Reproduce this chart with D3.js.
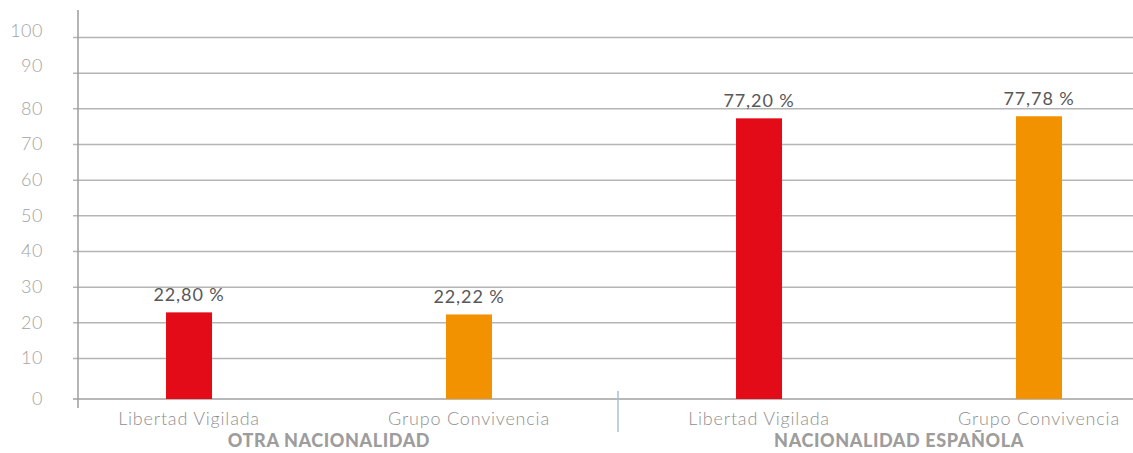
<!DOCTYPE html>
<html>
<head>
<meta charset="utf-8">
<script src="https://cdn.jsdelivr.net/npm/d3@7"></script>
<style>
  html, body { margin: 0; padding: 0; background: #fff; }
  svg { display: block; }
  text { font-family: "Lato", "Open Sans", sans-serif; }
</style>
</head>
<body>
<svg id="chart" width="1133" height="453"></svg>
<script>
// Nationality groups and the two programme categories inside each
const groups = ["OTRA NACIONALIDAD", "NACIONALIDAD ESPAÑOLA"];
const categories = ["Libertad Vigilada", "Grupo Convivencia"];
// Percentages per group, in category order
const otraNacionalidad = [22.80, 22.22];
const nacionalidadEspanola = [77.20, 77.78];
const yTicks = [0, 10, 20, 30, 40, 50, 60, 70, 80, 90, 100];
const barColors = ["#e30b17", "#f39200"];

const seriesByGroup = [otraNacionalidad, nacionalidadEspanola];
const rows = [];
groups.forEach((g, gi) => {
  categories.forEach((c, ci) => rows.push({ group: g, category: c, value: seriesByGroup[gi][ci], ci }));
});

const svg = d3.select("#chart");
const W = 1133;
const axisX = 78;        // vertical axis position
const baseY = 399;       // baseline of the bars
const tickLen = 5;

// Value scale (the 0 label sits on the baseline a little below the scale's zero)
const y = d3.scaleLinear().domain([0, 100]).range([393.7, 37]);
const outer = d3.scaleBand().domain(groups).range([44, 44 + 570 * 2]);
const inner = d3.scalePoint().domain(categories).range([0, outer.bandwidth()]).padding(0.518);
const barW = 46;
const fmt = v => d3.format(".2f")(v).replace(".", ",") + " %";

// Gridlines with tick labels
const yAxis = d3.axisLeft(y)
  .tickValues(yTicks)
  .tickSize(-(W - axisX))
  .tickPadding(0)
  .tickFormat(d3.format("d"));

const gAxis = svg.append("g").attr("transform", `translate(${axisX},0)`).call(yAxis);
gAxis.select(".domain").remove();
gAxis.selectAll(".tick line")
  .attr("x1", -tickLen)
  .attr("stroke", "#b5b5b5")
  .attr("stroke-width", 1.5);
gAxis.selectAll(".tick text")
  .attr("x", -35)
  .attr("dy", d => d >= 90 ? "-0.05em" : "0.32em")
  .attr("fill", "#a3a3a3")
  .style("font-size", "18px")
  .style("font-weight", 300)
  .style("letter-spacing", "0.5px")
  .style("font-family", "Lato, sans-serif");
// zero tick belongs to the baseline
gAxis.selectAll(".tick").filter(d => d === 0)
  .attr("transform", `translate(0,${baseY})`)
  .select("line").attr("stroke", "#a0a0a0");

// Vertical axis line
svg.append("line")
  .attr("x1", axisX).attr("x2", axisX)
  .attr("y1", 10).attr("y2", 408)
  .attr("stroke", "#9c9c9c")
  .attr("stroke-width", 1.5);

// Bars
svg.append("g").selectAll("rect")
  .data(rows)
  .join("rect")
  .attr("x", d => outer(d.group) + inner(d.category) - barW / 2)
  .attr("y", d => y(d.value))
  .attr("width", barW)
  .attr("height", d => baseY - y(d.value))
  .attr("fill", d => barColors[d.ci]);

// Value labels
svg.append("g").selectAll("text")
  .data(rows)
  .join("text")
  .attr("x", d => outer(d.group) + inner(d.category))
  .attr("y", d => y(d.value) - 11)
  .attr("text-anchor", "middle")
  .attr("fill", "#585858")
  .style("font-size", "18px")
  .style("font-weight", 400)
  .style("letter-spacing", "0.9px")
  .text(d => fmt(d.value));

// Category labels under each bar
svg.append("g").selectAll("text")
  .data(rows)
  .join("text")
  .attr("x", d => outer(d.group) + inner(d.category))
  .attr("y", 425)
  .attr("text-anchor", "middle")
  .attr("fill", "#8f8f8f")
  .style("font-size", "18px")
  .style("font-weight", 300)
  .style("letter-spacing", "0.8px")
  .text(d => d.category);

// Group labels
svg.append("g").selectAll("text")
  .data(groups)
  .join("text")
  .attr("x", d => outer(d) + outer.bandwidth() / 2)
  .attr("y", 447)
  .attr("text-anchor", "middle")
  .attr("fill", "#9d9d9d")
  .style("font-size", "18px")
  .style("font-weight", 900)
  .style("letter-spacing", "0.6px")
  .text(d => d);

// Separator between the groups
const sepX = (outer(groups[0]) + inner(categories[1]) + outer(groups[1]) + inner(categories[0])) / 2 + 4;
svg.append("line")
  .attr("x1", sepX).attr("x2", sepX)
  .attr("y1", 391).attr("y2", 432)
  .attr("stroke", "#a9bfd9")
  .attr("stroke-width", 1.5);
</script>
</body>
</html>
